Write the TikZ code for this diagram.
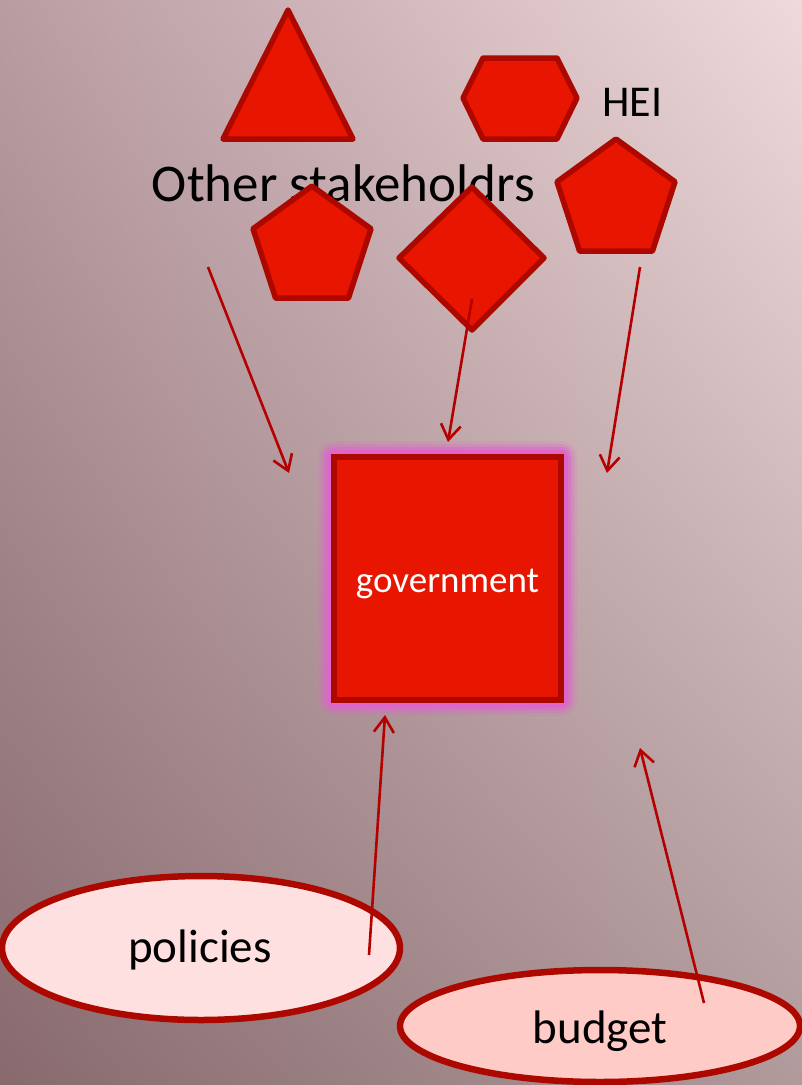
\documentclass[tikz,border=0pt]{standalone}
\usepackage{fontspec}
\setmainfont{Carlito}
\usetikzlibrary{arrows.meta,shapes.geometric,shadings}
\definecolor{bgUL}{HTML}{B89CA2}
\definecolor{bgUR}{HTML}{EFD9DA}
\definecolor{bgLL}{HTML}{886A6E}
\definecolor{bgLR}{HTML}{B09A9C}
\definecolor{shapefill}{HTML}{E81500}
\definecolor{shapeedge}{HTML}{AD0800}
\definecolor{arrowred}{HTML}{B50000}
\definecolor{polfill}{HTML}{FFE0E1}
\definecolor{budfill}{HTML}{FFCBC7}
\definecolor{glowpink}{HTML}{DE66CA}
\tikzset{
  redshape/.style={fill=shapefill, draw=shapeedge, line width=5.5pt, line join=round},
  flow/.style={draw=arrowred, line width=2.6pt, -{Straight Barb[length=15pt,width=20pt,line width=2.6pt]}},
  oval/.style={ellipse, draw=shapeedge, line width=6.5pt, inner sep=0pt},
  lbl/.style={text=black, inner sep=0pt, anchor=base}
}
\begin{document}
\begin{tikzpicture}[x=1pt,y=-1pt]
\useasboundingbox (0,0) rectangle (802,1085);
\shade[upper left=bgUL, upper right=bgUR, lower left=bgLL, lower right=bgLR] (0,0) rectangle (802,1085);

% texts behind shapes
\node[lbl] (other) at (343.5,201) {\fontsize{53}{60}\selectfont Other stakeholdrs};
\node[lbl, anchor=base west] (hei) at (602,116) {\fontsize{44}{50}\selectfont HEI};

% shapes
\draw[redshape] (288,10) -- (353,139) -- (223,139) -- cycle;
\draw[redshape] (463,98) -- (483,58) -- (557,58) -- (577,98) -- (557,139) -- (483,139) -- cycle;
\draw[redshape] (616,139) -- (675,181.8) -- (652.4,251.2) -- (579.6,251.2) -- (557,181.8) -- cycle;
\draw[redshape] (312,186) -- (371,228.8) -- (348.4,298.2) -- (275.6,298.2) -- (253,228.8) -- cycle;
\draw[redshape] (472,187) -- (544,258) -- (472,330) -- (399,258) -- cycle;

% government with glow
\foreach \g/\o in {16/0.15,13/0.3,10/0.55,7/0.9}{
  \fill[glowpink, opacity=\o, rounded corners=\g pt] (334-\g,457-\g) rectangle (561+\g,700+\g);
}
\node[rectangle, fill=shapefill, draw=shapeedge, line width=5.5pt, minimum width=227pt, minimum height=243pt, inner sep=0pt] (gov) at (447.5,578.5) {};
\node[lbl, text=white] (govtext) at (447.5,592) {\fontsize{37}{42}\selectfont government};

% ellipses
\node[oval, fill=polfill, minimum width=398pt, minimum height=144pt] (pol) at (201,948) {};
\node[lbl] (poltext) at (200,962) {\fontsize{47}{54}\selectfont policies};
\node[oval, fill=budfill, minimum width=400pt, minimum height=112pt] (bud) at (600,1026) {};
\node[lbl] (budtext) at (600,1043) {\fontsize{47}{54}\selectfont budget};

% connector end points
\coordinate (a1s) at (208,267);
\coordinate (a1e) at (289,473);
\coordinate (a2s) at (472,299);
\coordinate (a2e) at (448,442);
\coordinate (a3s) at (640,267);
\coordinate (a3e) at (607,473);
\coordinate (a4s) at (369,955);
\coordinate (a4e) at (385,715);
\coordinate (a5s) at (704,1003);
\coordinate (a5e) at (640,748);

\draw[flow] (a1s) -- (a1e);
\draw[flow] (a2s) -- (a2e);
\draw[flow] (a3s) -- (a3e);
\draw[flow] (a4s) -- (a4e);
\draw[flow] (a5s) -- (a5e);
\end{tikzpicture}
\end{document}
